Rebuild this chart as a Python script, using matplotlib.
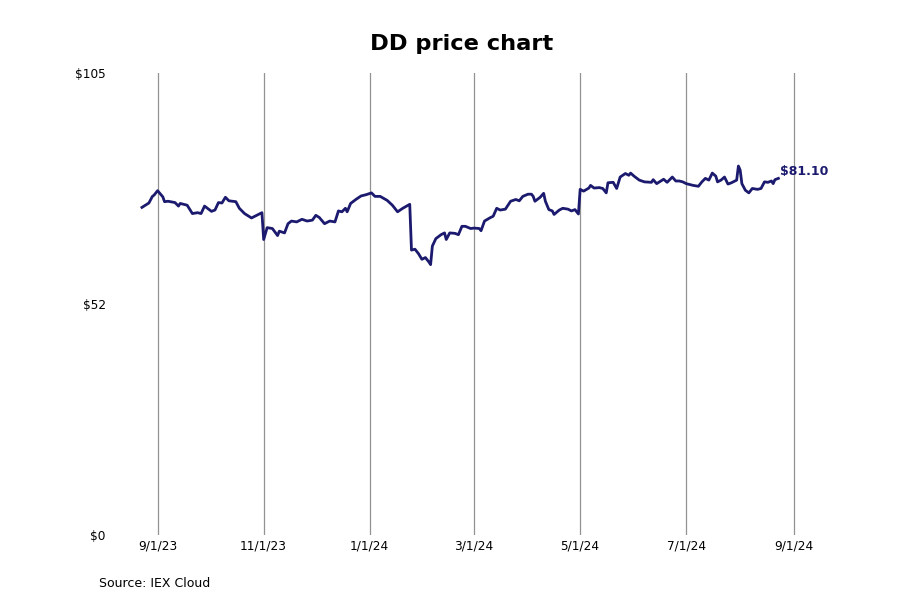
import matplotlib
matplotlib.use("Agg")
import matplotlib.pyplot as plt
import matplotlib.dates as mdates
import pandas as pd

ticker = "DD"
source = "Source: IEX Cloud"

dates = [
    "2023-08-23", "2023-08-27", "2023-08-29", "2023-08-30", "2023-09-01", "2023-09-04",
    "2023-09-05", "2023-09-07", "2023-09-11", "2023-09-13", "2023-09-14", "2023-09-18",
    "2023-09-21", "2023-09-24", "2023-09-26", "2023-09-28", "2023-10-02", "2023-10-04",
    "2023-10-06", "2023-10-08", "2023-10-10", "2023-10-12", "2023-10-16", "2023-10-18",
    "2023-10-21", "2023-10-25", "2023-10-27", "2023-10-29", "2023-10-31", "2023-11-01",
    "2023-11-03", "2023-11-06", "2023-11-09", "2023-11-10", "2023-11-13", "2023-11-15",
    "2023-11-17", "2023-11-20", "2023-11-23", "2023-11-26", "2023-11-29", "2023-12-01",
    "2023-12-03", "2023-12-06", "2023-12-09", "2023-12-12", "2023-12-14", "2023-12-16",
    "2023-12-18", "2023-12-19", "2023-12-21", "2023-12-24", "2023-12-27", "2023-12-30",
    "2024-01-02", "2024-01-04", "2024-01-07", "2024-01-11", "2024-01-14", "2024-01-17",
    "2024-01-20", "2024-01-24", "2024-01-25", "2024-01-27", "2024-01-29", "2024-01-31",
    "2024-02-02", "2024-02-04", "2024-02-05", "2024-02-06", "2024-02-08", "2024-02-11",
    "2024-02-13", "2024-02-14", "2024-02-16", "2024-02-19", "2024-02-21", "2024-02-23",
    "2024-02-25", "2024-02-28", "2024-03-01", "2024-03-04", "2024-03-05", "2024-03-07",
    "2024-03-10", "2024-03-12", "2024-03-14", "2024-03-16", "2024-03-19", "2024-03-22",
    "2024-03-25", "2024-03-27", "2024-03-29", "2024-04-01", "2024-04-03", "2024-04-04",
    "2024-04-05", "2024-04-08", "2024-04-10", "2024-04-11", "2024-04-13", "2024-04-15",
    "2024-04-16", "2024-04-19", "2024-04-21", "2024-04-24", "2024-04-26", "2024-04-28",
    "2024-04-30", "2024-05-01", "2024-05-03", "2024-05-06", "2024-05-07", "2024-05-09",
    "2024-05-12", "2024-05-14", "2024-05-16", "2024-05-17", "2024-05-20", "2024-05-22",
    "2024-05-24", "2024-05-27", "2024-05-29", "2024-05-30", "2024-06-01", "2024-06-04",
    "2024-06-07", "2024-06-11", "2024-06-12", "2024-06-14", "2024-06-18", "2024-06-20",
    "2024-06-23", "2024-06-25", "2024-06-27", "2024-06-29", "2024-07-01", "2024-07-05",
    "2024-07-08", "2024-07-10", "2024-07-12", "2024-07-14", "2024-07-16", "2024-07-18",
    "2024-07-19", "2024-07-21", "2024-07-23", "2024-07-25", "2024-07-27", "2024-07-30",
    "2024-07-31", "2024-08-01", "2024-08-02", "2024-08-04", "2024-08-06", "2024-08-08",
    "2024-08-11", "2024-08-13", "2024-08-15", "2024-08-17", "2024-08-19", "2024-08-20",
    "2024-08-21", "2024-08-23",
]
prices = [
    74.5, 75.5, 77.0, 77.3, 78.3, 76.9,
    75.8, 75.9, 75.6, 74.8, 75.4, 75.0,
    73.1, 73.3, 73.1, 74.8, 73.6, 73.9,
    75.6, 75.5, 76.8, 76.0, 75.8, 74.3,
    73.1, 72.1, 72.5, 72.9, 73.3, 67.2,
    69.9, 69.7, 68.1, 69.1, 68.7, 70.8,
    71.4, 71.2, 71.8, 71.4, 71.6, 72.7,
    72.2, 70.8, 71.4, 71.2, 73.7, 73.5,
    74.3, 73.5, 75.4, 76.3, 77.1, 77.4,
    77.8, 77.0, 77.0, 76.1, 75.0, 73.5,
    74.3, 75.2, 64.8, 65.0, 64.0, 62.7,
    63.1, 62.1, 61.5, 65.7, 67.4, 68.3,
    68.7, 67.2, 68.7, 68.6, 68.3, 70.2,
    70.2, 69.7, 69.8, 69.7, 69.2, 71.4,
    72.1, 72.5, 74.3, 73.9, 74.1, 75.9,
    76.3, 76.0, 77.0, 77.5, 77.5, 77.0,
    75.9, 76.8, 77.7, 75.9, 74.0, 73.7,
    72.9, 73.9, 74.3, 74.1, 73.7, 74.0,
    73.0, 78.6, 78.2, 78.9, 79.5, 78.9,
    79.0, 78.8, 77.8, 80.1, 80.2, 78.8,
    81.4, 82.2, 81.8, 82.3, 81.6, 80.7,
    80.3, 80.2, 80.8, 79.9, 80.9, 80.2,
    81.4, 80.5, 80.5, 80.3, 79.9, 79.5,
    79.3, 80.3, 81.1, 80.7, 82.3, 81.6,
    80.3, 80.7, 81.4, 79.8, 80.1, 80.7,
    83.9, 83.0, 79.9, 78.4, 77.8, 78.8,
    78.6, 78.8, 80.3, 80.2, 80.5, 79.9,
    80.8, 81.1,
]
y_ticks = [0, 52.5, 105]
y_labels = ["$0", "$52", "$105"]
x_ticks = ["2023-09-01", "2023-11-01", "2024-01-01", "2024-03-01",
           "2024-05-01", "2024-07-01", "2024-09-01"]

dates = pd.to_datetime(dates)
x_ticks = pd.to_datetime(x_ticks)
line_color = "#1b1a6e"

fig = plt.figure(figsize=(9, 6), dpi=100)
ax = fig.add_axes([0.1268, 0.108, 0.769, 0.770])

ax.plot(dates, prices, color=line_color, linewidth=2)

ax.set_xlim(pd.Timestamp("2023-08-07"), pd.Timestamp("2024-09-08"))
ax.set_ylim(0, 105)
ax.set_xticks(x_ticks)
ax.xaxis.set_major_formatter(mdates.DateFormatter("%-m/%-d/%y"))
ax.set_yticks(y_ticks)
ax.set_yticklabels(y_labels)
ax.tick_params(axis="both", length=0, labelsize=8.7, colors="black")
ax.tick_params(axis="x", pad=3)
ax.tick_params(axis="y", pad=6)
ax.grid(True, axis="x", color="#929292", linewidth=0.9)
for s in ax.spines.values():
    s.set_visible(False)

ax.annotate(f"${prices[-1]:.2f}", xy=(dates[-1], prices[-1]), xytext=(1.5, 0.5),
            textcoords="offset points", color=line_color, fontsize=9,
            fontweight="bold", va="bottom", ha="left")

fig.suptitle(f"{ticker} price chart", x=0.513, y=0.944, fontsize=16.2, fontweight="bold")
fig.text(0.11, 0.022, source, fontsize=9)

fig.savefig("out.png", dpi=100)
